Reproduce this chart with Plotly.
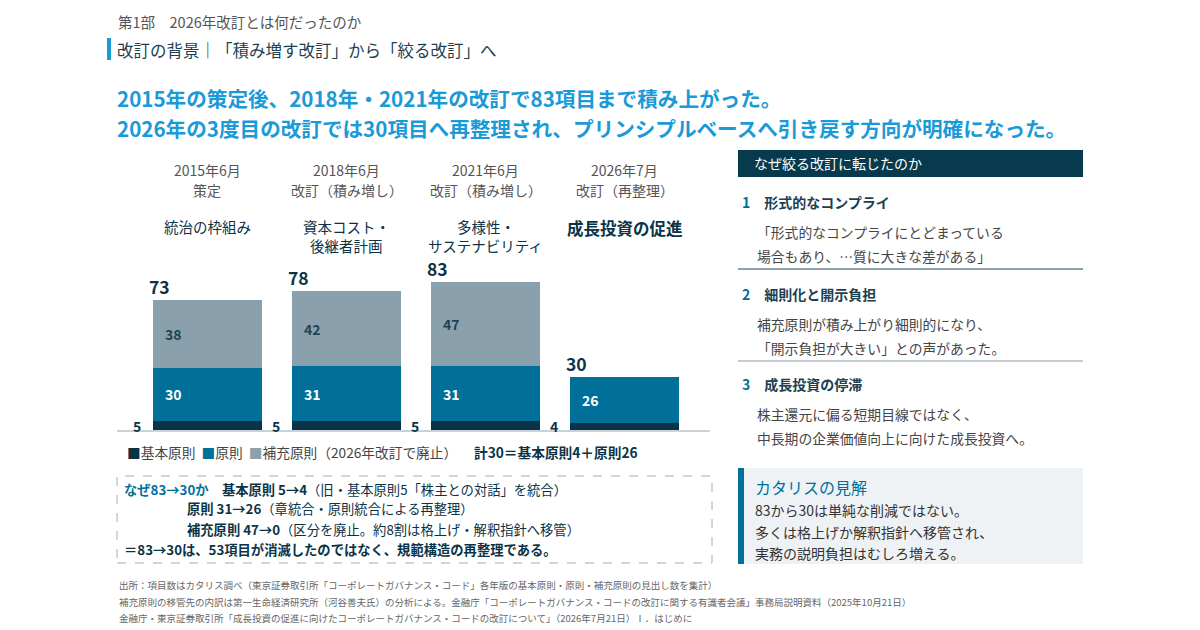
import plotly.graph_objects as go

# --- data ---
periods = ["2015年6月", "2018年6月", "2021年6月", "2026年7月"]
events = ["策定", "改訂（積み増し）", "改訂（積み増し）", "改訂（再整理）"]
themes = [["統治の枠組み"], ["資本コスト・", "後継者計画"], ["多様性・", "サステナビリティ"], ["成長投資の促進"]]
kihon = [5, 5, 5, 4]          # 基本原則
gensoku = [30, 31, 31, 26]    # 原則
hojyu = [38, 42, 47, 0]       # 補充原則
series_names = ["基本原則", "原則", "補充原則（2026年改訂で廃止）"]

reasons_title = ["形式的なコンプライ", "細則化と開示負担", "成長投資の停滞"]
reasons_body = [
    ["「形式的なコンプライにとどまっている", "場合もあり、…質に大きな差がある」"],
    ["補充原則が積み上がり細則的になり、", "「開示負担が大きい」との声があった。"],
    ["株主還元に偏る短期目線ではなく、", "中長期の企業価値向上に向けた成長投資へ。"],
]
view_lines = ["83から30は単純な削減ではない。", "多くは格上げか解釈指針へ移管され、", "実務の説明負担はむしろ増える。"]
footnotes = [
    "出所：項目数はカタリス調べ（東京証券取引所「コーポレートガバナンス・コード」各年版の基本原則・原則・補充原則の見出し数を集計）",
    "補充原則の移管先の内訳は第一生命経済研究所（河谷善夫氏）の分析による。金融庁「コーポレートガバナンス・コードの改訂に関する有識者会議」事務局説明資料（2025年10月21日）",
    "金融庁・東京証券取引所「成長投資の促進に向けたコーポレートガバナンス・コードの改訂について」（2026年7月21日）Ⅰ．はじめに",
]

FONT = "Noto Sans CJK JP"
NAVY = "#0a3347"
BLUE = "#00709a"
GRAY = "#8aa1ad"
SKY = "#1a9ad6"
TXT = "#444444"

# the page body has an 8px margin, so the figure is a bit smaller and shifted
OFF = 8
W, H = 1200 - OFF, 630 - OFF


def px(x):
    return (x - OFF) / W


def py(y):
    return 1 - (y - OFF) / H


x_idx = list(range(len(periods)))
totals = [a + b + c for a, b, c in zip(kihon, gensoku, hojyu)]
bw = 0.784

fig = go.Figure()
for vals, name, col in zip([kihon, gensoku, hojyu], series_names, [NAVY, BLUE, GRAY]):
    fig.add_trace(go.Bar(x=x_idx, y=vals, name=name, marker_color=col,
                         marker_line_width=0, width=bw, hoverinfo="skip"))

ann = []
shapes = []


def txt(x, y, s, size=14, color=TXT, anchor="left", xref="paper", yref="paper", yanchor="middle"):
    ann.append(dict(x=x, y=y, xref=xref, yref=yref, text=s, showarrow=False,
                    xanchor=anchor, yanchor=yanchor,
                    font=dict(family=FONT, size=size, color=color)))


# bar labels
for i in x_idx:
    left = i - bw / 2
    txt(left - 0.07, kihon[i] / 2, f"<b>{kihon[i]}</b>", 14, NAVY, "right", "x", "y")
    txt(left + 0.07, kihon[i] + gensoku[i] / 2, f"<b>{gensoku[i]}</b>", 14, "white", "left", "x", "y")
    if hojyu[i] > 0:
        txt(left + 0.07, kihon[i] + gensoku[i] + hojyu[i] / 2, f"<b>{hojyu[i]}</b>", 14, "#1f4356", "left", "x", "y")
    txt(left - 0.04, totals[i] + 7.5, f"<b>{totals[i]}</b>", 17.5, NAVY, "left", "x", "y")
    # column headers
    txt(i, py(170), periods[i], 14, "#555555", "center", "x")
    txt(i, py(190), events[i], 14, "#555555", "center", "x")
    for j, line in enumerate(themes[i]):
        if i == 3:
            txt(i, py(228), f"<b>{line}</b>", 16.5, NAVY, "center", "x")
        else:
            txt(i, py(227 + j * 19), line, 14.5, NAVY, "center", "x")

# page titles
txt(px(116), py(22), "第1部　2026年改訂とは何だったのか", 14.5, "#555555")
shapes.append(dict(type="rect", xref="paper", yref="paper", x0=px(107), x1=px(111),
                   y0=py(38), y1=py(60), fillcolor=SKY, line_width=0))
txt(px(115), py(50), "改訂の背景｜「積み増す改訂」から「絞る改訂」へ", 16.5, "#1d3f52")
txt(px(115), py(98), "<b>2015年の策定後、2018年・2021年の改訂で83項目まで積み上がった。</b>", 20.6, SKY)
txt(px(115), py(128), "<b>2026年の3度目の改訂では30項目へ再整理され、プリンシプルベースへ引き戻す方向が明確になった。</b>", 20.6, SKY)

# legend row
legend_txt = "  ".join(f"<span style='color:{c}'>■</span>{n}"
                       for n, c in zip(series_names, [NAVY, BLUE, GRAY]))
txt(px(125), py(452), legend_txt, 13.7, TXT)
txt(px(472), py(452), "<b>計30＝基本原則4＋原則26</b>", 13.7, NAVY)

# dashed note box
shapes.append(dict(type="rect", xref="paper", yref="paper", x0=px(117), x1=px(712),
                   y0=py(563), y1=py(476), line=dict(color="#9fb0bb", width=1, dash="dash")))
txt(px(122), py(489), f"<span style='color:{BLUE}'><b>なぜ83→30か</b></span>　<b>基本原則 5→4</b>（旧・基本原則5「株主との対話」を統合）", 13.3, NAVY)
txt(px(185), py(509), "<b>原則 31→26</b>（章統合・原則統合による再整理）", 13.3, NAVY)
txt(px(185), py(529), "<b>補充原則 47→0</b>（区分を廃止。約8割は格上げ・解釈指針へ移管）", 13.3, NAVY)
txt(px(122), py(549), "<b>＝83→30は、53項目が消滅したのではなく、規範構造の再整理である。</b>", 13.3, NAVY)

# footnotes
for k, f in enumerate(footnotes):
    txt(px(117), py(585 + k * 16.5), f, 9.5, "#666666")

# right panel
shapes.append(dict(type="rect", xref="paper", yref="paper", x0=px(738), x1=px(1083),
                   y0=py(177), y1=py(150), fillcolor="#073a4c", line_width=0))
txt(px(752), py(163), "なぜ絞る改訂に転じたのか", 14, "white")
sec_y = [202, 294, 384]
for k in range(3):
    y0 = sec_y[k]
    txt(px(740), py(y0), f"<span style='color:{BLUE}'><b>{k + 1}</b></span>　<b>{reasons_title[k]}</b>", 14, "#1d3f52")
    for j, line in enumerate(reasons_body[k]):
        txt(px(755), py(y0 + 30 + j * 24), line, 13.8, TXT)
    if k < 2:
        shapes.append(dict(type="line", xref="paper", yref="paper", x0=px(738), x1=px(1083),
                           y0=py(y0 + 67), y1=py(y0 + 67),
                           line=dict(color="#8fa2ae" if k == 0 else "#c2cdd4", width=2)))

shapes.append(dict(type="rect", xref="paper", yref="paper", x0=px(738), x1=px(1083),
                   y0=py(564), y1=py(468), fillcolor="#eff2f5", line_width=0))
shapes.append(dict(type="rect", xref="paper", yref="paper", x0=px(738), x1=px(744),
                   y0=py(564), y1=py(468), fillcolor=BLUE, line_width=0))
txt(px(753), py(487), "カタリスの見解", 16, BLUE)
for j, line in enumerate(view_lines):
    txt(px(753), py(510 + j * 21.5), line, 14, "#333333")

fig.update_layout(
    width=W, height=H,
    margin=dict(l=0, r=0, t=0, b=0),
    paper_bgcolor="white", plot_bgcolor="white",
    barmode="stack", bargap=0,
    showlegend=False,
    font=dict(family=FONT),
    annotations=ann,
    shapes=shapes,
    xaxis=dict(domain=[px(117), px(710)], range=[-0.651, 3.615],
               showticklabels=False, showgrid=False, zeroline=False,
               showline=True, linecolor="#c9d2d8", linewidth=2, fixedrange=True),
    yaxis=dict(domain=[py(430), py(250)], range=[0, 101.1],
               showticklabels=False, showgrid=False, zeroline=False, fixedrange=True),
)

fig.write_html("out.html")
